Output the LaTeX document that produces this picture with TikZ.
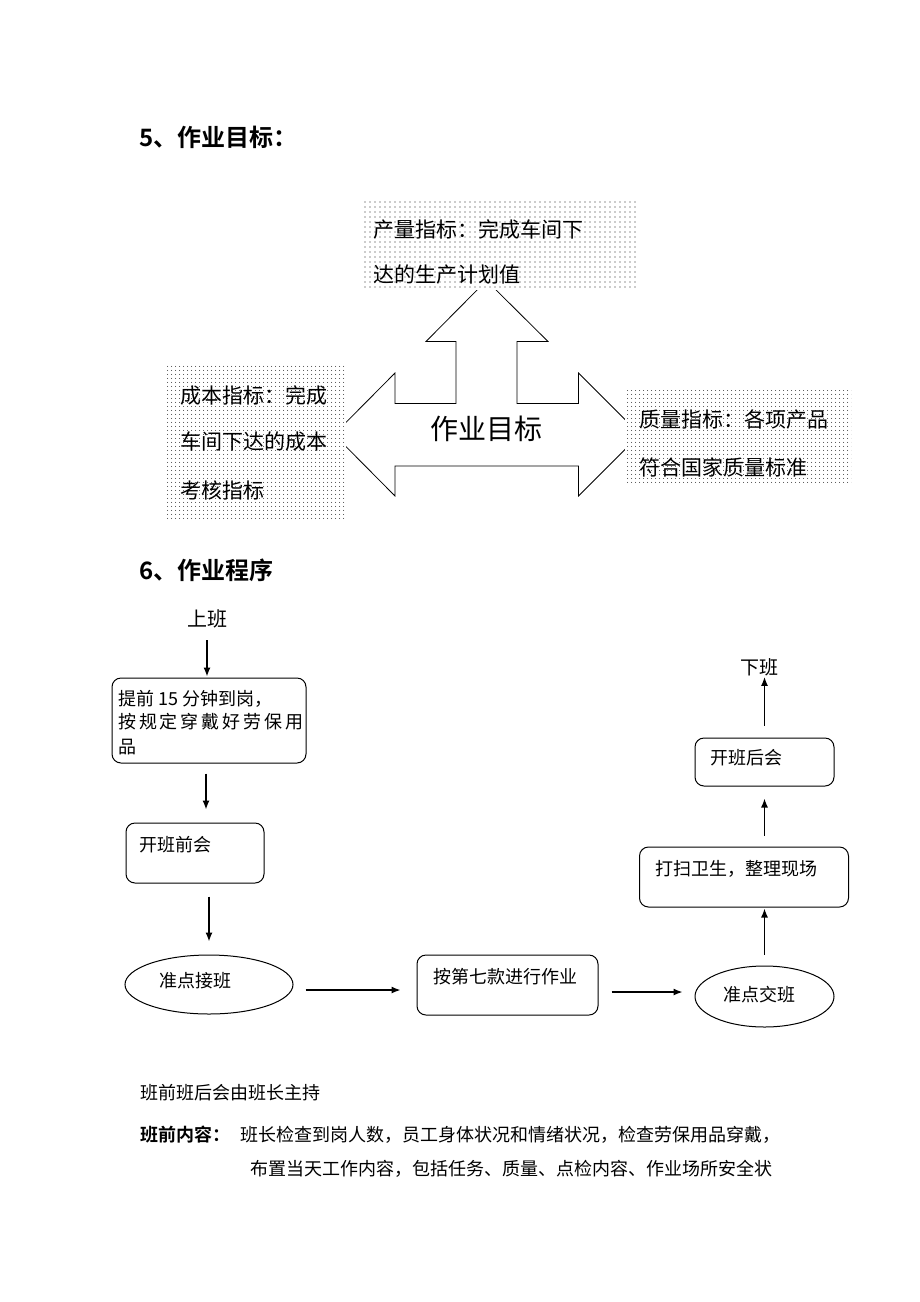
\documentclass[tikz,border=0pt]{standalone}
\usepackage{fontspec}
\setmainfont{Noto Sans CJK SC}
\newfontfamily\cjkb{Noto Sans CJK SC Bold}
\usetikzlibrary{arrows.meta,shapes.geometric,patterns.meta}
\newcommand{\fsz}[1]{\fontsize{#1pt}{#1pt}\selectfont}
\tikzset{
  txt/.style={inner sep=0pt, anchor=west, font=\fsz{18}},
  boxtxt/.style={inner sep=0pt, anchor=west, font=\fsz{21}},
  flowbox/.style={draw, line width=1pt, rounded corners=9pt, inner sep=0pt},
  flowoval/.style={draw, line width=1pt, ellipse, inner sep=0pt},
  arr/.style={line width=1.3pt, -{Latex[length=9pt,width=7pt]}},
}
\begin{document}
\begin{tikzpicture}[x=1pt,y=-1pt]
\useasboundingbox (0,0) rectangle (920,1302);
\fill[white] (0,0) rectangle (920,1302);

% heading 5
\node[inner sep=0pt, anchor=west, font=\cjkb\fsz{24}] (h5) at (139,137) {5、作业目标：};

% three-way arrow
\draw[line width=0.8pt, fill=white] (486.5,280.5) -- (548,341.5) -- (517,341.5) -- (517,403.5)
  -- (578.5,403.5) -- (578.5,373) -- (640,434.5) -- (578.5,496) -- (578.5,466)
  -- (395,466) -- (395,496) -- (334,434.5) -- (395,373) -- (395,403.5)
  -- (456,403.5) -- (456,341.5) -- (426,341.5) -- cycle;
\node[inner sep=0pt, font=\fsz{28}] (goal) at (486,429) {作业目标};

% dotted boxes
\fill[white] (363,198) rectangle (638,290);
\fill[pattern={Dots[distance=5pt,radius=0.6pt]}, pattern color=black!85] (363,198) rectangle (638,290);
\node[boxtxt] (t1) at (373,229) {产量指标：完成车间下};
\node[boxtxt] (t2) at (373,275) {达的生产计划值};

\fill[white] (167,365) rectangle (346,518);
\fill[pattern={Dots[distance=4pt,radius=0.6pt]}, pattern color=black!85] (167,365) rectangle (346,518);
\node[boxtxt] (l1) at (180,395) {成本指标：完成};
\node[boxtxt] (l2) at (180,442) {车间下达的成本};
\node[boxtxt] (l3) at (180,490) {考核指标};

\fill[white] (625,390) rectangle (851,483);
\fill[pattern={Dots[distance=4pt,radius=0.6pt]}, pattern color=black!85] (625,390) rectangle (851,483);
\node[boxtxt] (r1) at (639,420) {质量指标：各项产品};
\node[boxtxt] (r2) at (639,467) {符合国家质量标准};

% heading 6
\node[inner sep=0pt, anchor=west, font=\cjkb\fsz{24}] (h6) at (139,570) {6、作业程序};

% flowchart
\node[inner sep=0pt, font=\fsz{20}] (start) at (207,619) {上班};
\node[flowbox, minimum width=194, minimum height=85] (b1) at (209,720.5) {};
\node[txt] (b1a) at (118,699) {提前 15 分钟到岗，};
\node[txt] (b1b) at (118,722) {\makebox[185pt][s]{按\hfill 规\hfill 定\hfill 穿\hfill 戴\hfill 好\hfill 劳\hfill 保\hfill 用}};
\node[txt] (b1c) at (118,747) {品};

\node[flowbox, minimum width=138, minimum height=60] (b2) at (195,853) {};
\node[txt] (b2t) at (139,845) {开班前会};

\node[flowoval, minimum width=168, minimum height=59] (e1) at (209,984.5) {};
\node[txt] (e1t) at (159,981) {准点接班};

\node[flowbox, minimum width=181, minimum height=60] (b3) at (507.5,985) {};
\node[txt] (b3t) at (433,977) {按第七款进行作业};

\node[flowoval, minimum width=139, minimum height=61] (e2) at (764.5,996.5) {};
\node[txt] (e2t) at (723,995) {准点交班};

\node[flowbox, minimum width=209, minimum height=60] (b4) at (744,877) {};
\node[txt] (b4t) at (655,869) {打扫卫生，整理现场};

\node[flowbox, minimum width=139, minimum height=48] (b5) at (764.5,762) {};
\node[txt] (b5t) at (710,758) {开班后会};

\node[inner sep=0pt, font=\fsz{19}] (end) at (759,667) {下班};

% connectors
\draw[arr, shorten <=12pt, shorten >=1pt] (start.south) -- (start.south |- b1.north);
\draw[arr, shorten <=10pt, shorten >=13pt] ([xshift=-3pt]b1.south) -- ([xshift=-3pt]b1.south |- b2.north);
\draw[arr, shorten <=13pt, shorten >=13pt] (e1.north |- b2.south) -- (e1.north);
\draw[arr, shorten <=12pt, shorten >=16pt] ([yshift=-5.5pt]e1.east) -- ([yshift=-5.5pt]e1.east -| b3.west);
\draw[arr, shorten <=13pt, shorten >=12pt] ([yshift=4.5pt]b3.east |- e2.west) -- ([yshift=4.5pt]e2.west);
\draw[arr, shorten <=11pt, shorten >=1pt] (e2.north) -- (e2.north |- b4.south);
\draw[arr, shorten <=11pt, shorten >=12pt] (b4.north -| b5.south) -- (b5.south);
\draw[arr, shorten <=12pt, shorten >=1pt] (b5.north) -- (b5.north |- end.south);

% notes
\node[txt] (n1) at (140,1093) {班前班后会由班长主持};
\node[txt, font=\cjkb\fsz{18}] (n2) at (140,1135) {班前内容：};
\node[txt] (n3) at (240,1135) {班长检查到岗人数，员工身体状况和情绪状况，检查劳保用品穿戴，};
\node[txt] (n4) at (250,1169) {布置当天工作内容，包括任务、质量、点检内容、作业场所安全状};
\end{tikzpicture}
\end{document}
